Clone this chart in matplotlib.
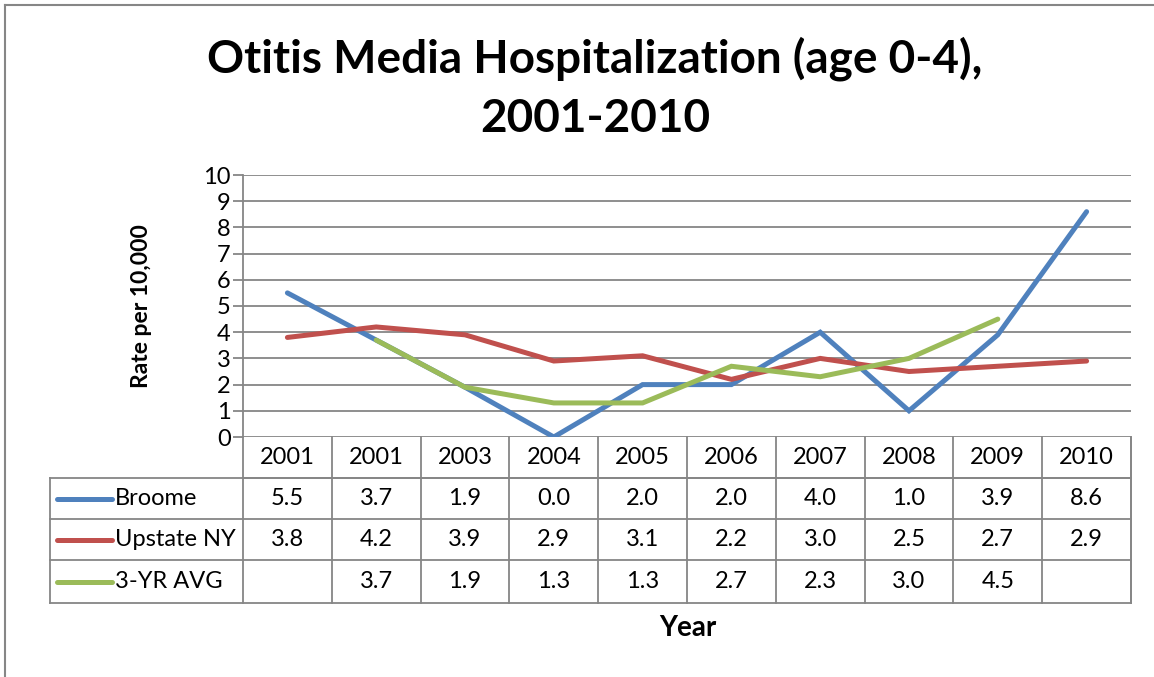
import matplotlib.pyplot as plt
import numpy as np

years = ['2001', '2001', '2003', '2004', '2005', '2006', '2007', '2008', '2009', '2010']
broome = [5.5, 3.7, 1.9, 0.0, 2.0, 2.0, 4.0, 1.0, 3.9, 8.6]
upstate = [3.8, 4.2, 3.9, 2.9, 3.1, 2.2, 3.0, 2.5, 2.7, 2.9]
avg3 = [np.nan, 3.7, 1.9, 1.3, 1.3, 2.7, 2.3, 3.0, 4.5, np.nan]
series_names = ['Broome', 'Upstate NY', '3-YR AVG']
colors = ['#4F81BD', '#C0504D', '#9BBB59']

plt.rcParams['font.family'] = ['Lato', 'DejaVu Sans']
grid_col = '#868686'

W, H = 1154, 677
fig = plt.figure(figsize=(W / 100, H / 100), dpi=100)

# plot area in pixels
px_left, px_right, px_top, px_bottom = 243, 1131, 175, 437
ax = fig.add_axes([px_left / W, 1 - px_bottom / H,
                   (px_right - px_left) / W, (px_bottom - px_top) / H])

x = np.arange(len(years))
for vals, c in zip([broome, upstate, avg3], colors):
    ax.plot(x, vals, color=c, lw=3.6, solid_capstyle='round', solid_joinstyle='miter', zorder=3)

ax.set_xlim(-0.5, len(years) - 0.5)
ax.set_ylim(0, 10)
ax.set_yticks(range(0, 11))
ax.yaxis.grid(True, color=grid_col, lw=1.3)
ax.set_axisbelow(True)
ax.set_xticks([])
for s in ['top', 'right', 'bottom']:
    ax.spines[s].set_visible(False)
ax.spines['left'].set_color(grid_col)
ax.spines['left'].set_linewidth(1.3)
ax.tick_params(axis='y', length=7, width=1.3, color=grid_col, labelsize=17, pad=2)

ax.set_ylabel('Rate per 10,000', fontsize=16.5, fontweight='bold', labelpad=37)

# data table under the plot
ph = px_bottom - px_top
row_px = [437, 478, 519, 560, 603]
row_y = [-(r - px_bottom) / ph for r in row_px]
table_left = -0.5 + (50 - px_left) / ((px_right - px_left) / len(years))
trans = ax.get_xaxis_transform()
lkw = dict(color=grid_col, lw=1.3, transform=trans, clip_on=False)

# header row cells
for i in range(len(years) + 1):
    ax.plot([i - 0.5, i - 0.5], [row_y[0], row_y[-1]], **lkw)
ax.plot([-0.5, len(years) - 0.5], [row_y[1], row_y[1]], **lkw)
for ry in row_y[1:]:
    ax.plot([table_left, len(years) - 0.5], [ry, ry], **lkw)
ax.plot([table_left, table_left], [row_y[1], row_y[-1]], **lkw)
ax.plot([len(years) - 0.5, len(years) - 0.5], [row_y[0], row_y[-1]], **lkw)

for i, yr in enumerate(years):
    ax.text(i, (row_y[0] + row_y[1]) / 2, yr, transform=trans, ha='center', va='center',
            fontsize=17, clip_on=False)

seg_px = 112 - 57
xs_per_px = len(years) / (px_right - px_left)
for r, (name, vals, c) in enumerate(zip(series_names, [broome, upstate, avg3], colors)):
    yc = (row_y[r + 1] + row_y[r + 2]) / 2
    x0 = table_left + 7 * xs_per_px
    ax.plot([x0, x0 + seg_px * xs_per_px], [yc, yc], color=c, lw=3.6,
            solid_capstyle='round', transform=trans, clip_on=False)
    ax.text(x0 + (seg_px + 3) * xs_per_px, yc, name, transform=trans, ha='left', va='center',
            fontsize=17, clip_on=False)
    for i, v in enumerate(vals):
        if not np.isnan(v):
            ax.text(i, yc, f'{v:.1f}', transform=trans, ha='center', va='center',
                    fontsize=17, clip_on=False)

fig.text(688 / W, 1 - 628 / H, 'Year', ha='center', va='center', fontsize=20, fontweight='bold')
fig.text(595 / W, 1 - 88 / H, 'Otitis Media Hospitalization (age 0-4),\n2001-2010',
         ha='center', va='center', fontsize=33, fontweight='bold', linespacing=1.5)

# chart frame: only the left and top edges show
fig.add_artist(plt.Line2D([5 / W, 5 / W], [0, 1 - 5 / H], color=grid_col, lw=1.5))
fig.add_artist(plt.Line2D([5 / W, 1], [1 - 5 / H, 1 - 5 / H], color=grid_col, lw=1.5))

fig.savefig('out.png', dpi=100)
